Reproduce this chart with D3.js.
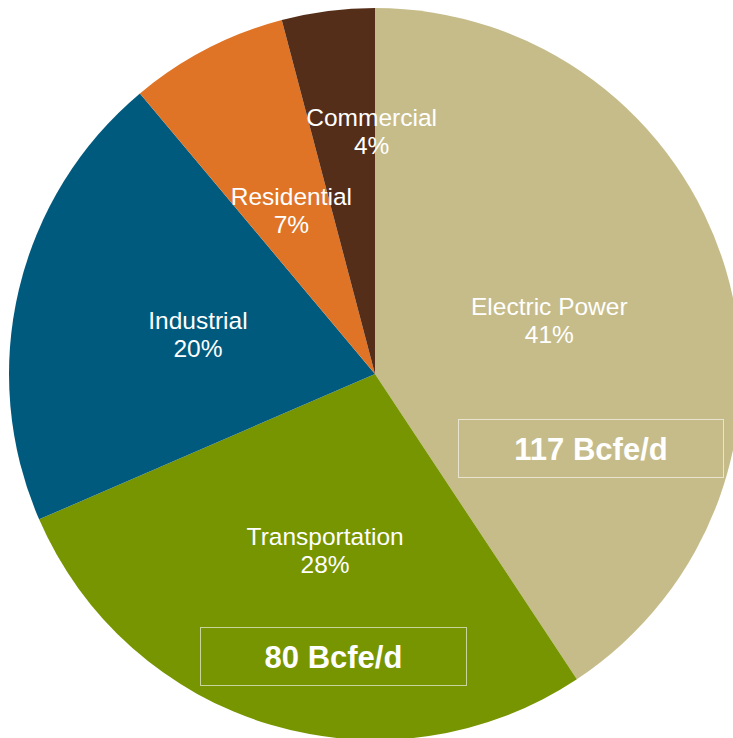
<!DOCTYPE html>
<html>
<head>
<meta charset="utf-8">
<script src="https://cdn.jsdelivr.net/npm/d3@7"></script>
<style>
  html, body { margin: 0; padding: 0; background: #fff; }
  svg { display: block; }
  text { font-family: "Liberation Sans", Arial, sans-serif; fill: #fff; }
</style>
</head>
<body>
<div id="chart"></div>
<script>
// Données (parts estimées d'après les angles)
const categories = ['Electric Power', 'Transportation', 'Industrial', 'Residential', 'Commercial'];
const shares = [40.7, 27.8, 20.4, 7.0, 4.1];
const colors = ['#C6BC8A', '#769500', '#005A7E', '#E07426', '#552E19'];
const boxLabels = ['117 Bcfe/d', '80 Bcfe/d'];

const width = 733;
const height = 738;
const cx = 375, cy = 374, radius = 366;

const svg = d3.select('#chart')
  .append('svg')
  .attr('width', width)
  .attr('height', height);

const g = svg.append('g').attr('transform', `translate(${cx},${cy})`);

const pie = d3.pie().sort(null).value(d => d.value);
const arcs = pie(categories.map((c, i) => ({ name: c, value: shares[i], color: colors[i] })));

const arc = d3.arc().innerRadius(0).outerRadius(radius);
const labelArc = d3.arc().innerRadius(182).outerRadius(182);

// Parts
g.selectAll('path')
  .data(arcs)
  .enter().append('path')
  .attr('d', arc)
  .attr('fill', d => d.data.color);

// Petits décalages pour coller au placement d'origine
const nudge = {
  'Electric Power': [0, -2],
  'Transportation': [2, 2],
  'Industrial': [0, 2],
  'Residential': [0, -2],
  'Commercial': [20, -63]
};

const labels = g.selectAll('g.label')
  .data(arcs)
  .enter().append('g')
  .attr('class', 'label')
  .attr('transform', d => {
    const [x, y] = labelArc.centroid(d);
    const [nx, ny] = nudge[d.data.name];
    return `translate(${x + nx},${y + ny})`;
  });

labels.append('text')
  .attr('text-anchor', 'middle')
  .attr('font-size', 24.5)
  .attr('y', -5)
  .text(d => d.data.name);

labels.append('text')
  .attr('text-anchor', 'middle')
  .attr('font-size', 24.5)
  .attr('y', 23)
  .text(d => Math.round(d.data.value) + '%');

// Encadrés des volumes
const boxes = [
  { label: boxLabels[0], x: 458.5, y: 419.5, w: 265, h: 58 },
  { label: boxLabels[1], x: 200.5, y: 627.5, w: 266, h: 58 }
];

const box = svg.selectAll('g.box')
  .data(boxes)
  .enter().append('g')
  .attr('class', 'box');

box.append('rect')
  .attr('x', d => d.x)
  .attr('y', d => d.y)
  .attr('width', d => d.w)
  .attr('height', d => d.h)
  .attr('fill', 'none')
  .attr('stroke', '#fff')
  .attr('stroke-opacity', 0.6)
  .attr('stroke-width', 1);

box.append('text')
  .attr('x', d => d.x + d.w / 2)
  .attr('y', d => d.y + d.h / 2 + 11)
  .attr('text-anchor', 'middle')
  .attr('font-size', 31)
  .attr('font-weight', 'bold')
  .text(d => d.label);
</script>
</body>
</html>
